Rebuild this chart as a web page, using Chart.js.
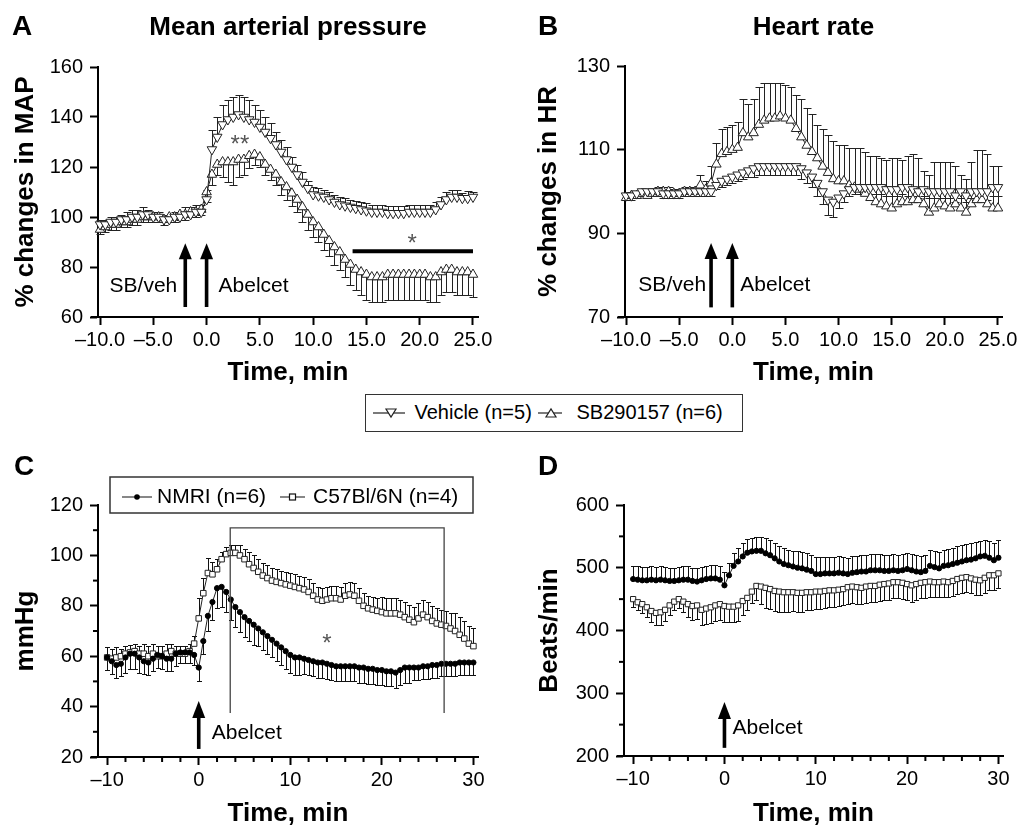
<!DOCTYPE html>
<html>
<head>
<meta charset="utf-8">
<script src="https://cdn.jsdelivr.net/npm/chart.js@4.4.1/dist/chart.umd.min.js"></script>
<style>
  html, body { margin: 0; padding: 0; background: #fff; }
  body { width: 1021px; height: 827px; position: relative; overflow: hidden;
         font-family: "Liberation Sans", Arial, sans-serif; }
  .panel { position: absolute; }
  #legendTop { position: absolute; left: 365px; top: 394px; width: 378px; height: 38px;
               box-sizing: border-box; border: 1.5px solid #333; background: #fff; }
  #legendTop svg { position: absolute; top: 7.5px; }
  #legendTop span { position: absolute; top: 0; line-height: 35px; font-size: 20px; color: #000; white-space: nowrap; }
</style>
</head>
<body>
<div class="panel" style="left:0;top:0"><canvas id="chartA" width="510" height="390"></canvas></div>
<div class="panel" style="left:510px;top:0"><canvas id="chartB" width="511" height="390"></canvas></div>
<div class="panel" style="left:0;top:430px"><canvas id="chartC" width="510" height="397"></canvas></div>
<div class="panel" style="left:510px;top:430px"><canvas id="chartD" width="511" height="397"></canvas></div>

<div id="legendTop">
  <svg style="left:7px" width="32" height="20"><line x1="0" y1="10" x2="32" y2="10" stroke="#222" stroke-width="1.2"/><polygon points="13,6 23,6 18,14" fill="#fff" stroke="#222" stroke-width="1.2"/></svg>
  <span style="left:48.5px">Vehicle (n=5)</span>
  <svg style="left:171.5px" width="24" height="20"><line x1="0" y1="10" x2="24" y2="10" stroke="#222" stroke-width="1.2"/><polygon points="8,14 18,14 13,6" fill="#fff" stroke="#222" stroke-width="1.2"/></svg>
  <span style="left:210.5px">SB290157 (n=6)</span>
</div>

<script>
// Tiempo (min) de cada punto
const timeAB = [-10, -9.5, -9, -8.5, -8, -7.5, -7, -6.5, -6, -5.5,
  -5, -4.5, -4, -3.5, -3, -2.5, -2, -1.5, -1, -0.5,
  0, 0.5, 1, 1.5, 2, 2.5, 3, 3.5, 4, 4.5,
  5, 5.5, 6, 6.5, 7, 7.5, 8, 8.5, 9, 9.5,
  10, 10.5, 11, 11.5, 12, 12.5, 13, 13.5, 14, 14.5,
  15, 15.5, 16, 16.5, 17, 17.5, 18, 18.5, 19, 19.5,
  20, 20.5, 21, 21.5, 22, 22.5, 23, 23.5, 24, 24.5,
  25];
const timeCD = [-10, -9.5, -9, -8.5, -8, -7.5, -7, -6.5, -6, -5.5,
  -5, -4.5, -4, -3.5, -3, -2.5, -2, -1.5, -1, -0.5,
  0, 0.5, 1, 1.5, 2, 2.5, 3, 3.5, 4, 4.5,
  5, 5.5, 6, 6.5, 7, 7.5, 8, 8.5, 9, 9.5,
  10, 10.5, 11, 11.5, 12, 12.5, 13, 13.5, 14, 14.5,
  15, 15.5, 16, 16.5, 17, 17.5, 18, 18.5, 19, 19.5,
  20, 20.5, 21, 21.5, 22, 22.5, 23, 23.5, 24, 24.5,
  25, 25.5, 26, 26.5, 27, 27.5, 28, 28.5, 29, 29.5,
  30];

// Ticks
const abXTicks = [-10, -5, 0, 5, 10, 15, 20, 25];
const mapYTicks = [60, 80, 100, 120, 140, 160];
const hrYTicks = [70, 90, 110, 130];
const cdXTicks = [-10, 0, 10, 20, 30];
const cdXMinor = [-8, -6, -4, -2, 2, 4, 6, 8, 12, 14, 16, 18, 22, 24, 26, 28];
const mmHgTicks = [20, 40, 60, 80, 100, 120];
const mmHgMinor = [30, 50, 70, 90, 110];
const bpmTicks = [200, 300, 400, 500, 600];
const bpmMinor = [250, 350, 450, 550];

// A: % cambio en MAP
const mapVehicle = [97, 97, 98, 98, 99, 99, 100, 100, 101, 101,
  100, 100, 99, 99, 100, 100, 101, 101, 102, 102,
  107, 127, 132, 137, 139, 140, 141, 140, 139, 138,
  136, 134, 131.5, 129, 126, 123, 120, 117, 114, 111.5,
  109, 108.5, 108, 107, 106, 105, 104.5, 104, 103.5, 103,
  102.5, 102, 102, 102, 101.5, 101.5, 101.5, 101.5, 102, 102,
  102, 102, 102, 103, 105, 107, 108, 108, 107.5, 107.5,
  108];
const mapVehicleErr = [2, 2, 2, 2, 2, 3, 3, 3, 3, 2,
  2, 2, 2, 2, 2, 2, 3, 3, 3, 3,
  4, 8, 8, 8, 8, 8, 8, 8, 8, 7,
  7, 6, 6, 5, 5, 5, 4, 4, 4, 3,
  3, 3, 3, 3, 3, 3, 3, 3, 3, 3,
  3, 3, 3, 3, 3, 3, 3, 3, 3, 3,
  3, 3, 3, 3, 3, 3, 3, 3, 2, 3,
  2];
const mapSB = [95, 96, 97, 97, 98, 98, 99, 99, 100, 100,
  100, 100, 99, 100, 100, 101, 101, 102, 102, 103,
  110, 117, 121, 122, 122, 122, 123, 123, 124.5, 125,
  124, 121, 119, 117, 114, 112, 109.5, 107, 104, 101,
  98, 96, 93, 90.5, 88, 86, 83, 81, 79, 78,
  77, 76, 76, 76, 77, 77, 77, 77, 77, 77,
  77, 77, 76, 76, 78, 79, 79, 78, 78, 78,
  77];
const mapSBErr = [2, 2, 2, 2, 2, 2, 2, 2, 2, 2,
  2, 2, 2, 2, 2, 2, 2, 2, 2, 2,
  4, 4, 4, 6, 8, 9, 7, 6, 5, 4,
  4, 4, 4, 4, 5, 5, 5, 5, 6, 6,
  6, 6, 6, 6, 7, 7, 7, 8, 8, 9,
  10, 10, 10, 10, 10, 10, 10, 10, 10, 10,
  10, 10, 10, 10, 9, 9, 9, 9, 9, 9,
  9];

// B: % cambio en HR
const hrVehicle = [99, 99, 99.5, 100, 100, 100, 100, 99.5, 99.5, 99.5,
  99.5, 100, 100, 100, 100, 100, 100, 101.5, 102.5, 103,
  103.5, 104, 104.5, 105, 105.5, 106, 106, 106, 106, 106,
  106, 106, 106, 105.5, 104.5, 103.5, 102, 100, 98, 97.5,
  98.5, 99.5, 100.5, 101, 101, 101, 101, 101, 101, 100.5,
  100.5, 100.5, 101, 101, 100.5, 100, 100.5, 100, 100, 100,
  100, 100, 99, 100, 99, 100, 100, 100, 100, 101,
  101];
const hrVehicleErr = [1, 1, 1, 1, 1, 1, 1, 1, 1, 1,
  1, 1, 1, 1, 1, 1, 1, 1, 1.5, 1.5,
  1.5, 1.5, 1.5, 1.5, 2, 2, 2, 2, 2, 2,
  2, 2, 2, 2.5, 2.5, 2.5, 3, 3, 3.5, 3.5,
  2.5, 2, 1.5, 1.5, 1.5, 1.5, 1.5, 1.5, 1.5, 1.5,
  1.5, 1.5, 1.5, 2, 1.5, 1.5, 1.5, 1.5, 1.5, 1.5,
  1.5, 1.5, 1.5, 1.5, 1.5, 1.5, 1.5, 2, 2, 2,
  2];
const hrSB = [98.5, 99, 99, 99.5, 99, 99.5, 100, 100, 100, 99.5,
  99.5, 100, 100, 100, 101.5, 100.5, 102, 106.5, 109, 109.5,
  110, 110.5, 114, 113, 114, 116, 117, 117.5, 117.5, 118,
  117.5, 117, 115, 113, 111, 109.5, 108, 106, 104.5, 103,
  102.5, 102.5, 101.5, 101, 100.5, 99.5, 98.5, 97.5, 97, 96.5,
  96, 97, 97.5, 97.5, 98, 98, 97, 95, 96, 97,
  96.5, 96, 97, 96, 95, 97, 98, 98, 97, 96,
  96];
const hrSBErr = [1, 1, 1, 1, 1, 1, 1, 1, 1, 1,
  1, 1, 1, 1, 2.5, 2, 4, 5, 6, 6,
  6, 6, 8, 8, 8, 9, 9, 8.5, 8.5, 8,
  8, 8, 8, 9, 9, 9, 8, 9, 9, 9,
  8.5, 8.5, 9, 9.5, 10, 10, 10, 11, 11, 11,
  12, 11, 10, 11, 11, 10, 8, 9, 11, 10,
  10.5, 11, 9, 8, 8, 10, 12, 12, 12, 10,
  10];

// C: mmHg
const nmriMmHg = [59.5, 58, 56.5, 57, 59.5, 61, 61, 59.5, 58, 57.5,
  59, 60.5, 60, 59, 59, 61, 61.5, 61.5, 61.5, 60.5,
  55.5, 66, 76, 81.5, 87, 87.5, 85.5, 82.5, 79.5, 77.5,
  75.5, 74, 72.5, 71, 69.5, 68, 66.5, 65, 63.5, 62,
  60.5, 59.5, 59.5, 59, 58.5, 58, 57.5, 57.5, 57, 56.5,
  56, 56, 56, 56, 56, 55.5, 55.5, 55, 55, 54.5,
  54.5, 54, 54, 53.5, 54.5, 55.5, 55.5, 55.5, 55.5, 56,
  56, 56.5, 56.5, 57, 57, 57, 57, 57.5, 57.5, 57.5,
  57.5];
const nmriMmHgErr = [5, 5, 5, 5, 6, 6, 6, 6, 5, 5,
  5, 5, 5, 5, 5, 5, 4, 4, 4, 4,
  5.5, 5, 6, 7, 8, 8, 8, 8, 8, 8,
  8, 8, 8, 7, 7, 7, 7, 7, 7, 7,
  7, 7, 7, 6, 6, 6, 6, 6, 6, 6,
  6, 6, 6, 6, 6, 6, 6, 6, 6, 6,
  6, 6, 6, 6, 6, 6, 6, 5, 5, 5,
  5, 5, 5, 5, 5, 5, 5, 5, 5, 5,
  5];
const c57MmHg = [59.5, 59, 59.5, 60, 61, 61.5, 62, 61, 61, 60,
  61, 60, 60, 61, 62, 61, 61, 61, 62, 65,
  75, 85, 93, 92.5, 94.5, 98.5, 100.5, 101, 101, 100,
  98.5, 96.5, 95, 93.5, 92, 91, 90, 89.5, 89, 88.5,
  88, 87.5, 87, 86.5, 85.5, 84, 82.5, 82, 82.5, 83,
  83, 82.5, 84, 84.5, 84, 82, 80, 79, 78.5, 78,
  77.5, 77, 77, 77, 76.5, 75.5, 74.5, 73.5, 75, 76.5,
  75.5, 74, 73, 72.5, 72, 71, 70, 68.5, 67, 65,
  64];
const c57MmHgErr = [4, 4, 4, 3, 3, 3, 3, 3, 4, 4,
  4, 4, 4, 4, 3, 3, 3, 3, 3, 3,
  8, 6, 6, 5, 4, 3, 3, 3, 3, 4,
  4, 5, 5, 5, 5, 5, 5, 5, 5, 5,
  5, 5, 5, 5, 5, 5, 5, 5, 5, 5,
  5, 5, 5, 5, 5, 5, 5, 5, 5, 5,
  6, 6, 6, 6, 6, 6, 6, 6, 6, 6,
  6, 6, 6, 6, 6, 6, 7, 7, 7, 7,
  7];

// D: latidos/min
const nmriBpm = [482, 481, 480, 480, 481, 480, 481, 480, 479, 479,
  480, 481, 481, 479, 478, 480, 482, 483, 483, 481,
  472, 488, 503, 510, 518, 524, 526, 527, 527, 523,
  520, 515, 510, 506, 504, 502, 500, 499, 497, 495,
  490, 490, 491, 491, 491, 492, 491, 490, 492, 493,
  494, 494, 496, 496, 496, 495, 495, 496, 495, 496,
  498, 496, 494, 493, 495, 503, 501, 499, 503, 504,
  506, 508, 510, 512, 513, 515, 518, 519, 516, 512,
  516];
const nmriBpmErr = [21, 21, 21, 21, 21, 21, 21, 21, 21, 21,
  21, 21, 21, 21, 21, 21, 21, 21, 21, 21,
  22, 20, 20, 22, 22, 22, 22, 22, 22, 24,
  25, 25, 25, 25, 25, 25, 26, 26, 26, 26,
  27, 27, 26, 26, 26, 26, 26, 26, 26, 26,
  26, 26, 26, 26, 26, 26, 26, 26, 26, 26,
  26, 26, 26, 26, 26, 26, 26, 26, 26, 26,
  26, 26, 26, 26, 26, 26, 25, 25, 26, 28,
  28];
const c57Bpm = [450, 445, 442, 437, 431, 428, 429, 433, 440, 446,
  450, 446, 442, 439, 440, 433, 435, 437, 440, 442,
  439, 438, 438, 440, 447, 452, 462, 471, 470, 468,
  466, 463, 462, 461, 461, 461, 460, 460, 461, 461,
  462, 462, 463, 464, 464, 465, 466, 469, 470, 469,
  468, 470, 471, 471, 473, 474, 475, 477, 477, 476,
  474, 472, 474, 476, 477, 478, 477, 477, 478, 477,
  479, 482, 484, 485, 483, 481, 480, 484, 488, 488,
  491];
const c57BpmErr = [12, 12, 14, 16, 18, 20, 20, 18, 15, 13,
  14, 16, 20, 22, 22, 24, 24, 25, 25, 25,
  25, 25, 25, 25, 22, 20, 18, 22, 28, 32,
  32, 32, 32, 32, 32, 30, 30, 30, 29, 28,
  28, 28, 27, 27, 27, 26, 26, 26, 26, 26,
  26, 26, 26, 26, 26, 26, 26, 26, 26, 26,
  26, 26, 25, 25, 25, 24, 24, 24, 24, 24,
  24, 24, 24, 24, 24, 24, 24, 24, 24, 23,
  23];

const FONT = '"Liberation Sans", Arial, sans-serif';
Chart.defaults.font.family = FONT;
Chart.defaults.color = '#000';

function pts(xs, ys) {
  return ys.map((v, i) => ({ x: xs[i], y: v }));
}

function dash(v, dec) {
  const s = Math.abs(v).toFixed(dec);
  return v < 0 ? '\u2013' + s : s;
}

// Barras de error de un solo lado (arriba o abajo)
const errorBars = {
  id: 'errorBars',
  beforeDatasetsDraw(chart) {
    const { ctx, scales: { x, y } } = chart;
    chart.data.datasets.forEach(ds => {
      if (!ds.err) return;
      ctx.save();
      ctx.strokeStyle = ds.errColor || '#222';
      ctx.lineWidth = 1;
      ds.data.forEach((p, i) => {
        const px = Math.round(x.getPixelForValue(p.x)) + 0.5;
        const py = y.getPixelForValue(p.y);
        const pe = Math.round(y.getPixelForValue(p.y + ds.errDir * ds.err[i])) + 0.5;
        ctx.beginPath();
        ctx.moveTo(px, py);
        ctx.lineTo(px, pe);
        ctx.moveTo(px - ds.capW, pe);
        ctx.lineTo(px + ds.capW, pe);
        ctx.stroke();
      });
      ctx.restore();
    });
  }
};

function xScale(min, max, ticks, dec, height, titlePad) {
  return {
    type: 'linear', min: min, max: max,
    afterBuildTicks: s => { s.ticks = ticks.map(v => ({ value: v })); },
    afterFit: s => { s.height = height; },
    ticks: { font: { size: 20 }, color: '#000', padding: 3, maxRotation: 0, autoSkip: false,
             callback: v => dash(v, dec) },
    grid: { drawOnChartArea: false, drawTicks: true, tickLength: 8, tickWidth: 2, tickColor: '#000' },
    border: { display: true, color: '#000', width: 2 },
    title: { display: true, text: 'Time, min', color: '#000',
             font: { size: 26, weight: 'bold', lineHeight: 1 }, padding: { top: 0, bottom: titlePad } }
  };
}

function yScale(min, max, ticks, width, text, titlePad) {
  return {
    type: 'linear', min: min, max: max,
    afterBuildTicks: s => { s.ticks = ticks.map(v => ({ value: v })); },
    afterFit: s => { s.width = width; },
    ticks: { font: { size: 20 }, color: '#000', padding: 7, autoSkip: false,
             callback: v => dash(v, 0) },
    grid: { drawOnChartArea: false, drawTicks: true, tickLength: 8, tickWidth: 2, tickColor: '#000' },
    border: { display: true, color: '#000', width: 2 },
    title: { display: true, text: text, color: '#000',
             font: { size: 26, weight: 'bold', lineHeight: 1 }, padding: { top: titlePad, bottom: 0 } }
  };
}

function serie(label, xs, ys, err, dir, style) {
  return Object.assign({
    label: label,
    data: pts(xs, ys),
    err: err, errDir: dir,
    borderColor: '#222', borderWidth: 1,
    pointBackgroundColor: '#fff', pointBorderColor: '#222', pointBorderWidth: 1,
    tension: 0, clip: false
  }, style);
}

// Dibujo de anotaciones
function arrowUp(ctx, x, yTip, yBase, hl) {
  ctx.fillStyle = '#000';
  ctx.fillRect(x - 1.8, yTip + hl - 1, 3.6, yBase - yTip - hl + 1);
  ctx.beginPath();
  ctx.moveTo(x, yTip);
  ctx.lineTo(x + 6.5, yTip + hl);
  ctx.lineTo(x - 6.5, yTip + hl);
  ctx.closePath();
  ctx.fill();
}

function label(ctx, txt, x, y, align, font, color) {
  ctx.font = font;
  ctx.fillStyle = color || '#000';
  ctx.textAlign = align;
  ctx.textBaseline = 'middle';
  ctx.fillText(txt, x, y);
}

function heading(ctx, chart, letter, lx, ly, title) {
  ctx.fillStyle = '#000';
  ctx.textBaseline = 'alphabetic';
  ctx.textAlign = 'left';
  ctx.font = 'bold 28px ' + FONT;
  ctx.fillText(letter, lx, ly);
  if (title) {
    ctx.textAlign = 'center';
    ctx.font = 'bold 26px ' + FONT;
    ctx.fillText(title, (chart.chartArea.left + chart.chartArea.right) / 2, ly);
  }
}

function extendXAxis(ctx, chart) {
  const a = chart.chartArea;
  ctx.fillStyle = '#000';
  ctx.fillRect(a.left - 7, a.bottom - 1, 8, 2);
}

function minorTicks(ctx, chart, xs, ys) {
  const { x, y } = chart.scales;
  const a = chart.chartArea;
  ctx.fillStyle = '#000';
  xs.forEach(v => {
    const px = x.getPixelForValue(v);
    ctx.fillRect(px - 1, a.bottom, 2, 5);
  });
  ys.forEach(v => {
    const py = y.getPixelForValue(v);
    ctx.fillRect(a.left - 5, py - 1, 5, 2);
  });
}

const notesA = {
  id: 'notesA',
  afterDraw(chart) {
    const { ctx, scales: { x, y } } = chart;
    ctx.save();
    heading(ctx, chart, 'A', 12, 35, 'Mean arterial pressure');
    extendXAxis(ctx, chart);
    arrowUp(ctx, x.getPixelForValue(-2), y.getPixelForValue(89.5), y.getPixelForValue(64), 16);
    arrowUp(ctx, x.getPixelForValue(0), y.getPixelForValue(89.5), y.getPixelForValue(64), 16);
    label(ctx, 'SB/veh', x.getPixelForValue(-2) - 8, y.getPixelForValue(72.3), 'right', '21px ' + FONT);
    label(ctx, 'Abelcet', x.getPixelForValue(0) + 12, y.getPixelForValue(72.3), 'left', '21px ' + FONT);
    label(ctx, '**', x.getPixelForValue(3.13), y.getPixelForValue(130.7) + 5, 'center', '24px ' + FONT, '#555');
    label(ctx, '*', x.getPixelForValue(19.3), y.getPixelForValue(91.1) + 5, 'center', '24px ' + FONT, '#555');
    ctx.strokeStyle = '#000';
    ctx.lineWidth = 4;
    ctx.beginPath();
    ctx.moveTo(x.getPixelForValue(13.7), y.getPixelForValue(86.3));
    ctx.lineTo(x.getPixelForValue(25), y.getPixelForValue(86.3));
    ctx.stroke();
    ctx.restore();
  }
};

const notesB = {
  id: 'notesB',
  afterDraw(chart) {
    const { ctx, scales: { x, y } } = chart;
    ctx.save();
    heading(ctx, chart, 'B', 28, 35, 'Heart rate');
    extendXAxis(ctx, chart);
    arrowUp(ctx, x.getPixelForValue(-2), y.getPixelForValue(87.7), y.getPixelForValue(72.3), 16);
    arrowUp(ctx, x.getPixelForValue(0), y.getPixelForValue(87.7), y.getPixelForValue(72.3), 16);
    label(ctx, 'SB/veh', x.getPixelForValue(-2) - 5, y.getPixelForValue(77.6), 'right', '21px ' + FONT);
    label(ctx, 'Abelcet', x.getPixelForValue(0) + 8, y.getPixelForValue(77.6), 'left', '21px ' + FONT);
    ctx.restore();
  }
};

const notesC = {
  id: 'notesC',
  afterDraw(chart) {
    const { ctx, scales: { x, y } } = chart;
    ctx.save();
    heading(ctx, chart, 'C', 14, 45, null);
    extendXAxis(ctx, chart);
    minorTicks(ctx, chart, cdXMinor, mmHgMinor);
    // corchete de significancia
    ctx.strokeStyle = '#444';
    ctx.lineWidth = 1.3;
    ctx.beginPath();
    ctx.moveTo(x.getPixelForValue(3.44), y.getPixelForValue(37.5));
    ctx.lineTo(x.getPixelForValue(3.44), y.getPixelForValue(110.9));
    ctx.lineTo(x.getPixelForValue(26.8), y.getPixelForValue(110.9));
    ctx.lineTo(x.getPixelForValue(26.8), y.getPixelForValue(37.5));
    ctx.stroke();
    label(ctx, '*', x.getPixelForValue(14), y.getPixelForValue(66.8) + 5, 'center', '24px ' + FONT, '#555');
    arrowUp(ctx, x.getPixelForValue(0), y.getPixelForValue(42.2), y.getPixelForValue(23.2), 17);
    label(ctx, 'Abelcet', x.getPixelForValue(0) + 13, y.getPixelForValue(29.5), 'left', '21px ' + FONT);
    // leyenda
    ctx.fillStyle = '#fff';
    ctx.fillRect(110, 47, 363, 36);
    ctx.strokeStyle = '#333';
    ctx.lineWidth = 1.5;
    ctx.strokeRect(110, 47, 363, 36);
    ctx.strokeStyle = '#111';
    ctx.lineWidth = 1.2;
    ctx.beginPath();
    ctx.moveTo(122, 67); ctx.lineTo(152, 67);
    ctx.moveTo(280, 67); ctx.lineTo(305, 67);
    ctx.stroke();
    ctx.fillStyle = '#000';
    ctx.beginPath(); ctx.arc(137, 67, 2.8, 0, Math.PI * 2); ctx.fill();
    ctx.fillStyle = '#fff';
    ctx.fillRect(289.5, 64, 6, 6);
    ctx.strokeRect(289.5, 64, 6, 6);
    label(ctx, 'NMRI (n=6)', 157, 67, 'left', '21px ' + FONT);
    label(ctx, 'C57Bl/6N (n=4)', 313, 67, 'left', '21px ' + FONT);
    ctx.restore();
  }
};

const notesD = {
  id: 'notesD',
  afterDraw(chart) {
    const { ctx, scales: { x, y } } = chart;
    ctx.save();
    heading(ctx, chart, 'D', 28, 45, null);
    extendXAxis(ctx, chart);
    minorTicks(ctx, chart, cdXMinor, bpmMinor);
    arrowUp(ctx, x.getPixelForValue(0), y.getPixelForValue(286), y.getPixelForValue(213), 17);
    label(ctx, 'Abelcet', x.getPixelForValue(0) + 8, y.getPixelForValue(245), 'left', '21px ' + FONT);
    ctx.restore();
  }
};

function baseOptions(padding, scales) {
  return {
    responsive: false,
    animation: false,
    events: [],
    layout: { padding: padding },
    plugins: { legend: { display: false }, tooltip: { enabled: false }, title: { display: false } },
    scales: scales
  };
}

const triDown = { pointStyle: 'triangle', pointRotation: 180 };
const triUp = { pointStyle: 'triangle', pointRotation: 0 };

new Chart(document.getElementById('chartA'), {
  type: 'line',
  data: {
    datasets: [
      serie('Vehicle (n=5)', timeAB, mapVehicle, mapVehicleErr, 1, Object.assign({ pointRadius: 5.5, capW: 4 }, triDown)),
      serie('SB290157 (n=6)', timeAB, mapSB, mapSBErr, -1, Object.assign({ pointRadius: 5.5, capW: 4 }, triUp))
    ]
  },
  options: baseOptions({ top: 67, right: 32, bottom: 0, left: 0 }, {
    x: xScale(-10.19, 25.47, abXTicks, 1, 73, 4),
    y: yScale(60, 160, mapYTicks, 98, '% changes in MAP', 13)
  }),
  plugins: [errorBars, notesA]
});

new Chart(document.getElementById('chartB'), {
  type: 'line',
  data: {
    datasets: [
      serie('Vehicle (n=5)', timeAB, hrVehicle, hrVehicleErr, -1, Object.assign({ pointRadius: 5.5, capW: 4 }, triDown)),
      serie('SB290157 (n=6)', timeAB, hrSB, hrSBErr, 1, Object.assign({ pointRadius: 5.5, capW: 4 }, triUp))
    ]
  },
  options: baseOptions({ top: 66, right: 19, bottom: 0, left: 0 }, {
    x: xScale(-10.1, 25.38, abXTicks, 1, 73, 4),
    y: yScale(70, 130, hrYTicks, 115, '% changes in HR', 26)
  }),
  plugins: [errorBars, notesB]
});

new Chart(document.getElementById('chartC'), {
  type: 'line',
  data: {
    datasets: [
      serie('NMRI (n=6)', timeCD, nmriMmHg, nmriMmHgErr, -1,
        { pointStyle: 'circle', pointRadius: 2.6, pointBackgroundColor: '#000', pointBorderColor: '#000', capW: 2.5, errColor: '#111' }),
      serie('C57Bl/6N (n=4)', timeCD, c57MmHg, c57MmHgErr, 1,
        { pointStyle: 'rect', pointRadius: 3.9, capW: 2.5, errColor: '#111' })
    ]
  },
  options: baseOptions({ top: 75, right: 32, bottom: 0, left: 0 }, {
    x: xScale(-11, 30.5, cdXTicks, 0, 70, 0),
    y: yScale(20, 120, mmHgTicks, 98, 'mmHg', 13)
  }),
  plugins: [errorBars, notesC]
});

new Chart(document.getElementById('chartD'), {
  type: 'line',
  data: {
    datasets: [
      serie('NMRI (n=6)', timeCD, nmriBpm, nmriBpmErr, 1,
        { pointStyle: 'circle', pointRadius: 2.6, pointBackgroundColor: '#000', pointBorderColor: '#000', capW: 2.5, errColor: '#111' }),
      serie('C57Bl/6N (n=4)', timeCD, c57Bpm, c57BpmErr, -1,
        { pointStyle: 'rect', pointRadius: 3.7, capW: 2.5, errColor: '#111' })
    ]
  },
  options: baseOptions({ top: 75, right: 18, bottom: 0, left: 0 }, {
    x: xScale(-11, 30.5, cdXTicks, 0, 71, 0),
    y: yScale(200, 600, bpmTicks, 114, 'Beats/min', 27)
  }),
  plugins: [errorBars, notesD]
});
</script>
</body>
</html>
